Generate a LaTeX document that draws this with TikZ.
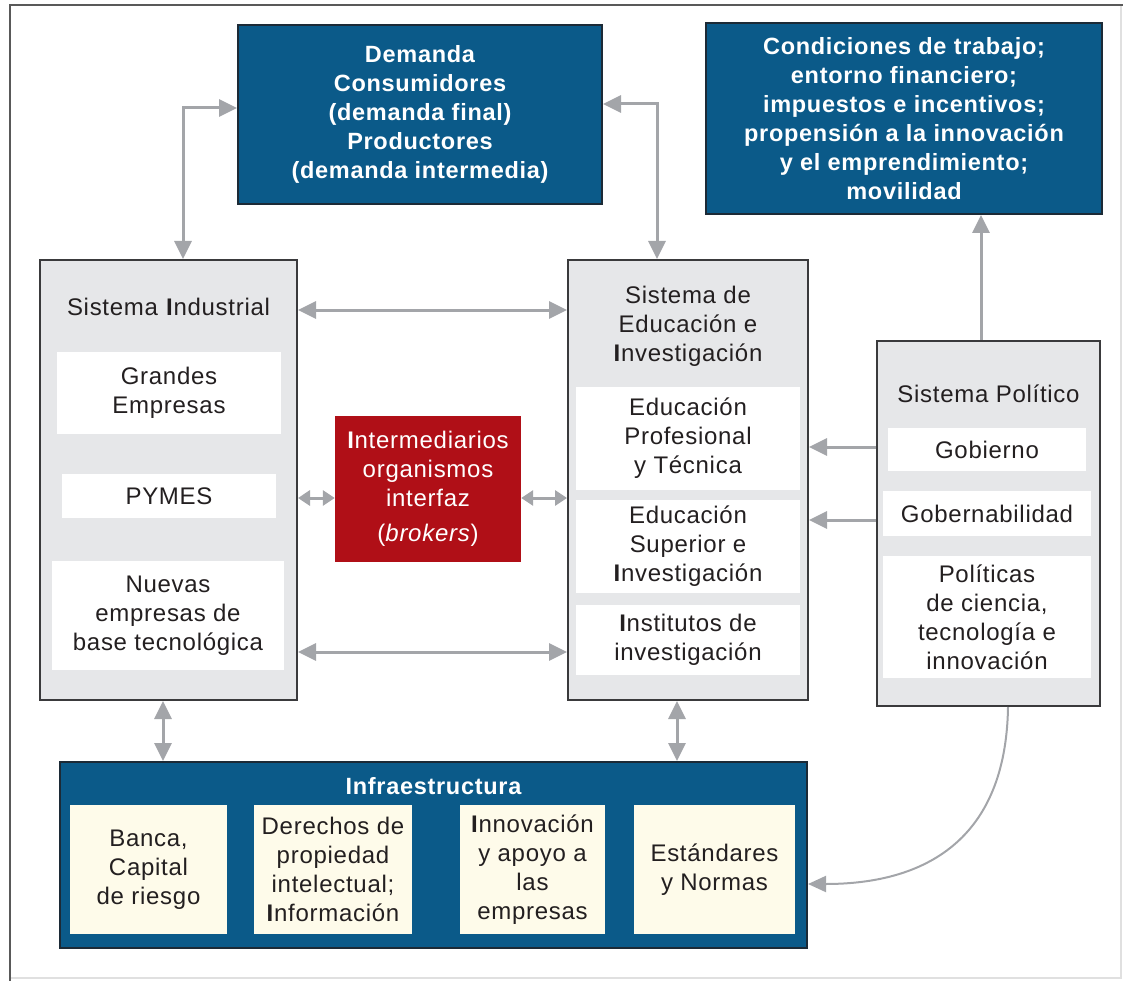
\documentclass[tikz,border=0pt]{standalone}
\usepackage{fontspec}
\setmainfont{Liberation Sans}[LetterSpace=3]
\usetikzlibrary{arrows.meta}
\definecolor{navy}{HTML}{0B5A89}
\definecolor{navyedge}{HTML}{1C2A36}
\definecolor{brick}{HTML}{B00F17}
\definecolor{panel}{HTML}{E6E7E9}
\definecolor{cream}{HTML}{FEFBEA}
\definecolor{edge}{HTML}{3A3A3C}
\definecolor{link}{HTML}{A3A5A9}
\definecolor{ink}{HTML}{231F20}
\begin{document}
\begin{tikzpicture}[x=1pt,y=-1pt,
  txt/.style={font=\fontsize{24}{29}\selectfont, align=center, text=ink, inner sep=0pt},
  bluebox/.style={draw=navyedge, line width=2pt, fill=navy, text=white, align=center,
    inner sep=0pt, font=\fontsize{23.5}{29}\selectfont\bfseries},
  panelbox/.style={draw=edge, line width=2pt, fill=panel, inner sep=0pt},
  whitebox/.style={fill=white, txt},
  creambox/.style={fill=cream, txt},
  redbox/.style={fill=brick, text=white, align=center, inner sep=0pt,
    font=\fontsize{24}{29}\selectfont},
  ttl/.style={txt},
  dbl/.style={draw=link, line width=3pt, {Triangle[length=18pt,width=17pt]}-{Triangle[length=18pt,width=17pt]}},
  dblshort/.style={draw=link, line width=3pt, {Triangle[length=12pt,width=15pt]}-{Triangle[length=12pt,width=15pt]}},
  one/.style={draw=link, line width=3pt, -{Triangle[length=18pt,width=17pt]}},
  onethin/.style={draw=link, line width=2pt, -{Triangle[length=18pt,width=16pt]}}
]
\useasboundingbox (0,0) rectangle (1123,981);

% frame
\draw[draw=black!12, line width=1.5pt] (1121,5) -- (1121,978) -- (10,978);
\draw[draw=black!65, line width=2pt] (10,981) -- (10,5) -- (1123,5);

% top blue boxes
\node[bluebox, minimum width=364, minimum height=179] (dem) at (420,114.5)
  {Demanda\\Consumidores\\(demanda final)\\Productores\\(demanda intermedia)};
\node[bluebox, minimum width=396, minimum height=191] (cond) at (904,118.5)
  {Condiciones de trabajo;\\entorno financiero;\\impuestos e incentivos;\\propensión a la innovación\\y el emprendimiento;\\movilidad};

% industrial system
\node[panelbox, minimum width=257, minimum height=440] (ind) at (168.5,480) {};
\node[ttl] (indt) at (168.5,307) {Sistema \textbf{I}ndustrial};
\node[whitebox, minimum width=224, minimum height=82] (gran) at (169,393) {Grandes\\Empresas};
\node[whitebox, minimum width=214, minimum height=44] (pym) at (169,496) {PYMES};
\node[whitebox, minimum width=232, minimum height=109] (nue) at (168,615.5) {Nuevas\\empresas de\\base tecnológica};

% education and research system
\node[panelbox, minimum width=240, minimum height=440] (edu) at (688,480) {};
\node[ttl] (edut) at (688,326) {Sistema de\\Educación e\\\textbf{I}nvestigación};
\node[whitebox, minimum width=224, minimum height=103] (prof) at (688,438.5) {Educación\\Profesional\\y Técnica};
\node[whitebox, minimum width=224, minimum height=93] (sup) at (688,546.5) {Educación\\Superior e\\\textbf{I}nvestigación};
\node[whitebox, minimum width=224, minimum height=70] (inst) at (688,640) {\textbf{I}nstitutos de\\investigación};

% intermediaries
\node[redbox, minimum width=186, minimum height=146] (inter) at (428,489)
  {\textbf{I}ntermediarios\\organismos\\interfaz\\[6pt](\textit{brokers})};

% political system
\node[panelbox, minimum width=223, minimum height=365] (pol) at (988.5,523.5) {};
\node[ttl] (polt) at (988.5,394) {Sistema Político};
\node[whitebox, minimum width=198, minimum height=43] (gob) at (987,449.5) {Gobierno};
\node[whitebox, minimum width=208, minimum height=45] (gobn) at (987,513.5) {Gobernabilidad};
\node[whitebox, minimum width=208, minimum height=122] (polc) at (987,617) {Políticas\\de ciencia,\\tecnología e\\innovación};

% infrastructure
\node[bluebox, minimum width=747, minimum height=186] (infra) at (433.5,855) {};
\node[ttl, text=white, font=\fontsize{23.5}{29}\selectfont\bfseries] (infrat) at (433.5,786) {Infraestructura};
\node[creambox, minimum width=157, minimum height=129] (banca) at (148.5,869.5) {Banca,\\Capital\\de riesgo};
\node[creambox, minimum width=158, minimum height=129] (der) at (333,869.5) {Derechos de\\propiedad\\intelectual;\\\textbf{I}nformación};
\node[creambox, minimum width=145, minimum height=129] (innov) at (532.5,869.5) {\textbf{I}nnovación\\y apoyo a\\las\\empresas};
\node[creambox, minimum width=161, minimum height=129] (est) at (714.5,869.5) {Estándares\\y Normas};

% connector levels
\coordinate (yd1) at (0,108);
\coordinate (yd2) at (0,104);
\coordinate (xd1) at (183,0);
\coordinate (xd2) at (657,0);
\coordinate (yt) at (0,310);
\coordinate (yb) at (0,652);
\coordinate (ym) at (0,498);
\coordinate (yp1) at (0,447);
\coordinate (yp2) at (0,520);
\coordinate (xp) at (981,0);
\coordinate (xi) at (163,0);
\coordinate (xe) at (677,0);
\coordinate (xc) at (1008,0);
\coordinate (yc) at (0,884);

% connectors
\draw[dbl] (dem.west |- yd1) -| (ind.north -| xd1);
\draw[dbl] (dem.east |- yd2) -| (edu.north -| xd2);
\draw[dbl] (ind.east |- yt) -- (edu.west |- yt);
\draw[dbl] (ind.east |- yb) -- (edu.west |- yb);
\draw[dblshort] (ind.east |- ym) -- (inter.west |- ym);
\draw[dblshort] (inter.east |- ym) -- (edu.west |- ym);
\draw[one] (pol.west |- yp1) -- (edu.east |- yp1);
\draw[one] (pol.west |- yp2) -- (edu.east |- yp2);
\draw[one] (pol.north -| xp) -- (cond.south -| xp);
\draw[dbl] (ind.south -| xi) -- (infra.north -| xi);
\draw[dbl] (edu.south -| xe) -- (infra.north -| xe);
\draw[onethin] (pol.south -| xc) .. controls (1006,840) and (925,884) .. (infra.east |- yc);
\end{tikzpicture}
\end{document}
